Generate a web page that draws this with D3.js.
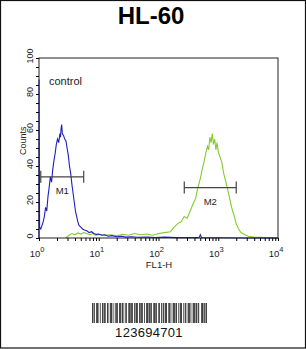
<!DOCTYPE html>
<html>
<head>
<meta charset="utf-8">
<script src="https://cdn.jsdelivr.net/npm/d3@7"></script>
<style>
  body { margin: 0; background: #fff; }
  svg { display: block; font-family: "Liberation Sans", Arial, sans-serif; }
</style>
</head>
<body>
<script>
  //DATA (x as log10 of FL1-H, y as counts)
  var blueLog = [0.00, 0.00, 0.01, 0.03, 0.05, 0.07, 0.09, 0.11, 0.13, 0.15, 0.17, 0.19, 0.21, 0.23, 0.25,
      0.27, 0.29, 0.31, 0.33, 0.35, 0.36, 0.37, 0.38, 0.39, 0.41, 0.43, 0.45, 0.47, 0.49, 0.51, 0.53,
      0.55, 0.57, 0.59, 0.61, 0.63, 0.65, 0.67, 0.70, 0.73, 0.76, 0.80, 0.84, 0.88, 0.92, 0.96, 1.00,
      1.05, 1.10, 1.16, 1.22, 1.30, 1.38, 1.46, 1.55, 1.65, 1.80, 1.95, 2.10, 2.30, 2.50, 2.68, 2.70,
      2.72, 3.00, 3.50, 4.00];
  var blueCounts = [0, 88, 6, 5, 7, 9, 12, 17, 15, 23, 28, 34, 31, 38, 43,
      47, 52, 55, 53, 58, 56, 61, 63, 58, 57, 55, 54, 50, 46, 40, 36,
      30, 25, 20, 15, 12, 9, 7, 6, 5, 4.5, 4, 3, 3.5, 2.5, 2, 2.2,
      1.5, 1.8, 1, 1.3, 0.7, 1, 0.5, 0.7, 0.4, 0.5, 0.3, 0.5, 0.2, 0.2, 0.2, 1.8,
      0.2, 0.1, 0, 0];

  var greenLog = [0.45, 0.50, 0.55, 0.60, 0.65, 0.70, 0.75, 0.80, 0.85, 0.90, 0.95, 1.00, 1.10, 1.20,
      1.30, 1.40, 1.50, 1.60, 1.70, 1.80, 1.90, 2.00, 2.10, 2.20, 2.26, 2.32, 2.38, 2.43, 2.48, 2.53,
      2.58, 2.62, 2.66, 2.70, 2.73, 2.76, 2.79, 2.82, 2.84, 2.86, 2.88, 2.90, 2.92, 2.94, 2.96, 2.98,
      3.00, 3.03, 3.06, 3.09, 3.12, 3.15, 3.18, 3.21, 3.24, 3.27, 3.30, 3.34, 3.38, 3.44, 3.50, 3.60,
      3.80, 4.00];
  var greenCounts = [0, 1.5, 2.5, 1.8, 2.8, 2.2, 3, 2.5, 1.8, 2.5, 1.5, 2, 1.5, 1.8,
      1.2, 2, 1.5, 2.5, 1.8, 2.2, 1.5, 2.5, 3, 3.5, 6, 8, 9, 12, 11, 15,
      19, 22, 28, 33, 38, 42, 47, 51, 49, 56, 53, 58, 52, 55, 49, 53,
      48, 45, 42, 36, 32, 28, 24, 19, 15, 12, 8, 5, 3, 2, 1, 0.5,
      0.2, 0];

  var yTicks = [0, 20, 40, 60, 80, 100];
  var xDecades = [0, 1, 2, 3, 4];

  var markers = [
      { name: "M1", lo: 1.07, hi: 5.6, count: 34 },
      { name: "M2", lo: 270, hi: 2000, count: 28 }
  ];

  var barcodeText = "123694701";
  var barcodeBars = "11010011100100110110011001110100101100111011001010011101100101110011011001001110110100111010011001011011100110100111011001011100101100111010011101101100011101011";

  var w = 306, h = 349;

  var x = d3.scaleLog()
      .domain([1, 10000])
      .range([39, 278]);

  var y = d3.scaleLinear()
      .domain([0, 100])
      .range([238, 58]);

  var svg = d3.select("body")
      .append("svg")
      .attr("width", w)
      .attr("height", h);

  //outer frame
  svg.append("rect")
      .attr("x", 0.5).attr("y", 0.5)
      .attr("width", w - 1).attr("height", h - 1.5)
      .attr("fill", "white")
      .attr("stroke", "#111")
      .attr("stroke-width", 1.2);

  //title
  svg.append("text")
      .attr("x", 151).attr("y", 24)
      .attr("text-anchor", "middle")
      .attr("font-size", 24)
      .attr("font-weight", "bold")
      .text("HL-60");

  //curves
  var line = d3.line()
      .x(function(d) { return x(Math.pow(10, d[0])); })
      .y(function(d) { return y(d[1]); });

  svg.append("path")
      .datum(d3.zip(greenLog, greenCounts))
      .attr("d", line)
      .attr("fill", "none")
      .attr("stroke", "#84cc2c")
      .attr("stroke-width", 1.1);

  svg.append("path")
      .datum(d3.zip(blueLog, blueCounts))
      .attr("d", line)
      .attr("fill", "none")
      .attr("stroke", "#1f1fc4")
      .attr("stroke-width", 1.1);

  //plot box
  svg.append("rect")
      .attr("x", x(1)).attr("y", y(100))
      .attr("width", x(10000) - x(1))
      .attr("height", y(0) - y(100))
      .attr("fill", "none")
      .attr("stroke", "#222")
      .attr("stroke-width", 1);

  //y axis
  var yAxis = d3.axisLeft(y)
      .tickValues(d3.range(0, 101, 5))
      .tickSize(3)
      .tickFormat("");
  svg.append("g")
      .attr("transform", "translate(" + x(1) + ",0)")
      .call(yAxis)
      .call(function(g) { g.select(".domain").remove(); });

  svg.selectAll(".ylab")
      .data(yTicks)
      .enter()
      .append("text")
      .attr("class", "ylab")
      .attr("transform", function(d) { return "translate(33," + (y(d) - 2) + ") rotate(-90)"; })
      .attr("text-anchor", "middle")
      .attr("font-size", 9)
      .attr("fill", "#222")
      .text(function(d) { return d; });

  svg.append("text")
      .attr("transform", "translate(26," + y(54) + ") rotate(-90)")
      .attr("text-anchor", "middle")
      .attr("font-size", 9)
      .attr("fill", "#222")
      .text("Counts");

  //x axis
  var minorTicks = [];
  xDecades.slice(0, 4).forEach(function(e) {
      for (var k = 1; k < 10; k++) minorTicks.push(k * Math.pow(10, e));
  });
  minorTicks.push(10000);

  var xAxis = d3.axisBottom(x)
      .tickValues(minorTicks)
      .tickSize(3)
      .tickFormat("");
  svg.append("g")
      .attr("transform", "translate(0," + y(0) + ")")
      .call(xAxis)
      .call(function(g) { g.select(".domain").remove(); });

  var xl = svg.selectAll(".xlab")
      .data(xDecades)
      .enter()
      .append("text")
      .attr("class", "xlab")
      .attr("x", function(d) { return x(Math.pow(10, d)) - 2; })
      .attr("y", 257)
      .attr("text-anchor", "middle")
      .attr("font-size", 9.5)
      .attr("fill", "#222");
  xl.append("tspan").text("10");
  xl.append("tspan")
      .attr("dy", -5)
      .attr("font-size", 7.5)
      .text(function(d) { return d; });

  svg.append("text")
      .attr("x", 159).attr("y", 268)
      .attr("text-anchor", "middle")
      .attr("font-size", 9.5)
      .attr("fill", "#222")
      .text("FL1-H");

  //control label
  svg.append("text")
      .attr("x", 49).attr("y", 85)
      .attr("font-size", 11)
      .attr("fill", "#222")
      .text("control");

  //markers
  var mk = svg.selectAll(".marker")
      .data(markers)
      .enter()
      .append("g")
      .attr("class", "marker")
      .attr("stroke", "#444")
      .attr("stroke-width", 1.2);
  mk.append("line")
      .attr("x1", function(d) { return x(d.lo); })
      .attr("x2", function(d) { return x(d.hi); })
      .attr("y1", function(d) { return y(d.count); })
      .attr("y2", function(d) { return y(d.count); });
  mk.append("line")
      .attr("x1", function(d) { return x(d.lo); })
      .attr("x2", function(d) { return x(d.lo); })
      .attr("y1", function(d) { return y(d.count) - 6; })
      .attr("y2", function(d) { return y(d.count) + 6; });
  mk.append("line")
      .attr("x1", function(d) { return x(d.hi); })
      .attr("x2", function(d) { return x(d.hi); })
      .attr("y1", function(d) { return y(d.count) - 6; })
      .attr("y2", function(d) { return y(d.count) + 6; });
  mk.append("text")
      .attr("x", function(d) { return (x(d.lo) + x(d.hi)) / 2; })
      .attr("y", function(d) { return y(d.count) + 17; })
      .attr("text-anchor", "middle")
      .attr("stroke", "none")
      .attr("fill", "#222")
      .attr("font-size", 9.5)
      .text(function(d) { return d.name; });

  //barcode
  var bx = d3.scaleLinear()
      .domain([0, barcodeBars.length])
      .range([92, 207]);
  var modules = barcodeBars.split("").map(function(c, i) { return { on: c === "1", i: i }; })
      .filter(function(d) { return d.on; });
  svg.selectAll(".bar")
      .data(modules)
      .enter()
      .append("rect")
      .attr("class", "bar")
      .attr("x", function(d) { return bx(d.i); })
      .attr("y", 303)
      .attr("width", bx(1) - bx(0))
      .attr("height", 20)
      .attr("fill", "#111");

  svg.append("text")
      .attr("x", 149).attr("y", 337)
      .attr("text-anchor", "middle")
      .attr("font-size", 13)
      .attr("letter-spacing", 0.3)
      .attr("fill", "#111")
      .text(barcodeText);
</script>
</body>
</html>
